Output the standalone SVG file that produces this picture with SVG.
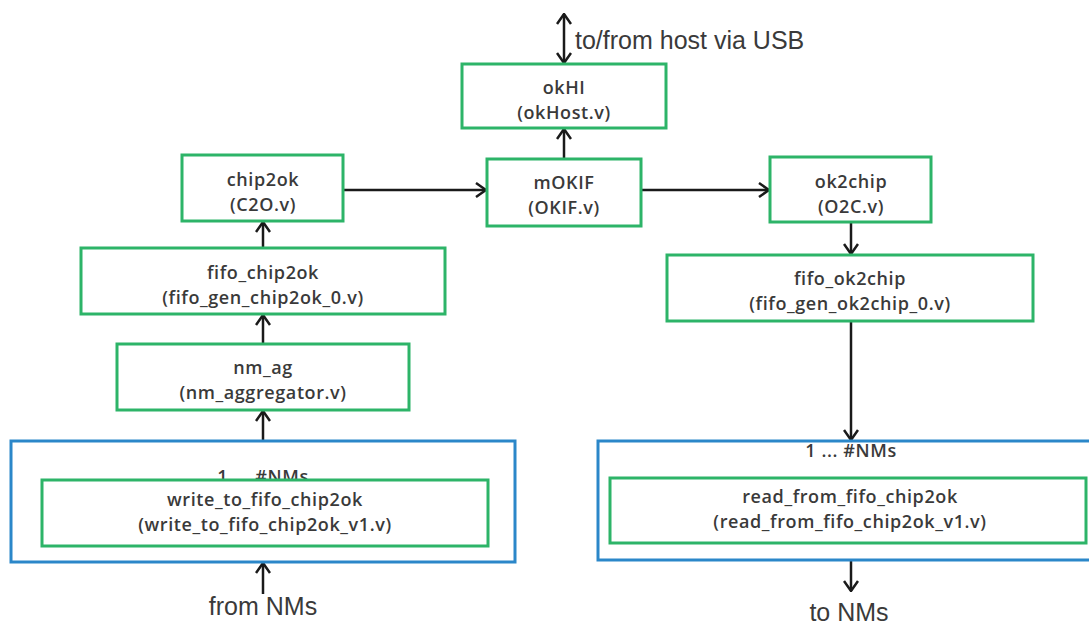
<svg xmlns="http://www.w3.org/2000/svg" width="1089" height="626" viewBox="0 0 1089 626">
<style>
.g{fill:#fff;stroke:#2db468;stroke-width:3}
.b{fill:#fff;stroke:#2b87c9;stroke-width:3}
.t{font-family:"Open Sans","Liberation Sans",sans-serif;font-weight:600;font-size:18px;letter-spacing:0.6px;fill:#3a3a3a;text-anchor:middle}
.r{font-family:"Liberation Sans",Arial,sans-serif;font-size:25px;fill:#3a3a3a}
.c{fill:none;stroke:#1a1a1a;stroke-width:2.5}
</style>
<defs>
<marker id="ah" viewBox="0 0 12 16" refX="11" refY="8" markerWidth="12" markerHeight="16" markerUnits="userSpaceOnUse" orient="auto-start-reverse">
<path d="M1,1 L11,8 L1,15" fill="none" stroke="#1a1a1a" stroke-width="2.5"/>
</marker>
</defs>

<g id="connectors">
<line class="c" x1="564" y1="14" x2="564" y2="63" marker-start="url(#ah)" marker-end="url(#ah)"/>
<line class="c" x1="564" y1="159" x2="564" y2="129" marker-end="url(#ah)"/>
<line class="c" x1="343" y1="190" x2="486" y2="190" marker-end="url(#ah)"/>
<line class="c" x1="641" y1="190" x2="769" y2="190" marker-end="url(#ah)"/>
<line class="c" x1="263" y1="248" x2="263" y2="222" marker-end="url(#ah)"/>
<line class="c" x1="263" y1="344" x2="263" y2="315" marker-end="url(#ah)"/>
<line class="c" x1="263" y1="441" x2="263" y2="411" marker-end="url(#ah)"/>
<line class="c" x1="263" y1="594" x2="263" y2="563" marker-end="url(#ah)"/>
<line class="c" x1="851" y1="222" x2="851" y2="254" marker-end="url(#ah)"/>
<line class="c" x1="851" y1="321" x2="851" y2="440" marker-end="url(#ah)"/>
<line class="c" x1="851" y1="560" x2="851" y2="591" marker-end="url(#ah)"/>
</g>

<text class="r" x="575" y="49">to/from host via USB</text>
<text class="r" x="263" y="615" text-anchor="middle">from NMs</text>
<text class="r" x="849" y="621" text-anchor="middle">to NMs</text>

<g id="okHI">
<rect class="g" x="462" y="64" width="204" height="64"/>
<text class="t" x="564" y="94">okHI</text>
<text class="t" x="564" y="119">(okHost.v)</text>
</g>

<g id="mOKIF">
<rect class="g" x="487" y="159" width="154" height="67"/>
<text class="t" x="564" y="189">mOKIF</text>
<text class="t" x="564" y="214">(OKIF.v)</text>
</g>

<g id="chip2ok">
<rect class="g" x="182" y="155" width="161" height="66"/>
<text class="t" x="263" y="186">chip2ok</text>
<text class="t" x="263" y="211">(C2O.v)</text>
</g>

<g id="ok2chip">
<rect class="g" x="770" y="157" width="161" height="65"/>
<text class="t" x="851" y="188">ok2chip</text>
<text class="t" x="851" y="213">(O2C.v)</text>
</g>

<g id="fifo_chip2ok">
<rect class="g" x="81" y="248" width="364" height="66"/>
<text class="t" x="263" y="279">fifo_chip2ok</text>
<text class="t" x="263" y="304">(fifo_gen_chip2ok_0.v)</text>
</g>

<g id="fifo_ok2chip">
<rect class="g" x="667" y="255" width="366" height="66"/>
<text class="t" x="850" y="285">fifo_ok2chip</text>
<text class="t" x="850" y="310">(fifo_gen_ok2chip_0.v)</text>
</g>

<g id="nm_ag">
<rect class="g" x="117" y="344" width="292" height="66"/>
<text class="t" x="263" y="374">nm_ag</text>
<text class="t" x="263" y="399">(nm_aggregator.v)</text>
</g>

<g id="write_group">
<rect class="b" x="11" y="441" width="504" height="121"/>
<text class="t" x="263" y="483">1 ... #NMs</text>
<g id="write_to_fifo_chip2ok">
<rect class="g" x="42" y="480" width="446" height="66"/>
<text class="t" x="265" y="506">write_to_fifo_chip2ok</text>
<text class="t" x="265" y="531">(write_to_fifo_chip2ok_v1.v)</text>
</g>
</g>

<g id="read_group">
<rect class="b" x="598" y="441" width="500" height="119"/>
<text class="t" x="851" y="457">1 ... #NMs</text>
<g id="read_from_fifo_chip2ok">
<rect class="g" x="610" y="478" width="476" height="65"/>
<text class="t" x="850" y="503">read_from_fifo_chip2ok</text>
<text class="t" x="850" y="528">(read_from_fifo_chip2ok_v1.v)</text>
</g>
</g>
</svg>
